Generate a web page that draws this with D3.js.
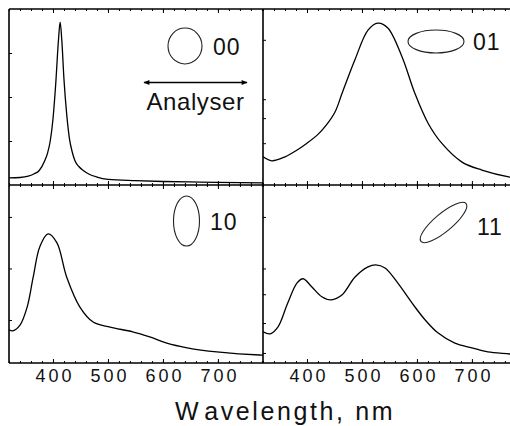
<!DOCTYPE html>
<html><head><meta charset="utf-8">
<script src="https://cdn.jsdelivr.net/npm/d3@7"></script>
<style>
html,body{margin:0;padding:0;background:#fff;}
svg{display:block;font-family:"Liberation Sans",Arial,sans-serif;}
</style></head>
<body>
<svg id="chart" width="510" height="426"></svg>
<script>
// ---- data ----
const wavelengthDomain = [320, 782];
const xTickValues = [400, 500, 600, 700];
const xTickLabels = ["400", "500", "600", "700"];

const s00_wl = [320,340,355,365,375,385,390,395,400,405,410,413,416,420,425,430,435,440,447,455,465,480,500,550,600,650,700,782];
const s00_I  = [0.16,0.17,0.2,0.25,0.33,0.55,0.72,1.0,1.5,2.3,3.3,3.7,3.3,2.4,1.6,1.05,0.75,0.55,0.42,0.33,0.25,0.18,0.13,0.1,0.08,0.07,0.06,0.05];

const s01_wl = [320,336,360,380,400,420,435,451,464,487,511,529,547,573,596,620,645,682,718,769,782];
const s01_I  = [0.64,0.55,0.64,0.78,0.95,1.15,1.36,1.66,2.09,2.84,3.52,3.68,3.57,2.91,2.09,1.41,0.95,0.52,0.34,0.18,0.16];

const s10_wl = [320,327,340,353,364,376,391,407,425,449,473,504,545,576,607,644,698,776,782];
const s10_I  = [0.81,0.79,0.90,1.25,1.83,2.42,2.67,2.50,1.83,1.25,0.96,0.86,0.77,0.67,0.55,0.46,0.38,0.32,0.32];

const s11_wl = [320,333,347,365,382,393,409,427,444,464,487,511,525,542,565,591,615,638,669,700,729,769,782];
const s11_I  = [0.77,0.73,0.86,1.33,1.72,1.80,1.64,1.45,1.39,1.49,1.83,2.03,2.07,2.01,1.72,1.33,1.00,0.75,0.55,0.46,0.38,0.34,0.32];

const panelLabels = ["00", "01", "10", "11"];
const yTicks00 = [1, 2, 3];
const yTicks01 = [0.95, 1.52, 1.95, 3.3];
const yTicks10 = [1, 2, 3];
const yTicks11 = [0.36, 0.94, 1.5, 2.0, 3.0];
const topDomain = [0, 4.0];
const bottomDomain = [0.165, 3.62];

// ---- layout ----
const svg = d3.select("#chart");
const X0 = 9, XM = 263, X1 = 517, Y0 = 9, YM = 185, Y1 = 363;

const panels = [
  {wl:s00_wl, I:s00_I, x:[X0,XM], y:[YM,Y0], dom:topDomain, yt:yTicks00, bottomLabels:false, curve:d3.curveMonotoneX},
  {wl:s01_wl, I:s01_I, x:[XM,X1], y:[YM,Y0], dom:topDomain, yt:yTicks01, bottomLabels:false, curve:d3.curveCatmullRom.alpha(0.5)},
  {wl:s10_wl, I:s10_I, x:[X0,XM], y:[Y1,YM], dom:bottomDomain, yt:yTicks10, bottomLabels:true, curve:d3.curveCatmullRom.alpha(0.5)},
  {wl:s11_wl, I:s11_I, x:[XM,X1], y:[Y1,YM], dom:bottomDomain, yt:yTicks11, bottomLabels:true, curve:d3.curveCatmullRom.alpha(0.5)}
];

const minorTicks = d3.range(320, 783, 20);

panels.forEach((p, i) => {
  const x = d3.scaleLinear().domain(wavelengthDomain).range(p.x);
  const y = d3.scaleLinear().domain(p.dom).range(p.y);
  const g = svg.append("g");
  const clipId = "clip" + i;
  svg.append("clipPath").attr("id", clipId).append("rect")
    .attr("x", p.x[0]).attr("y", p.y[1]).attr("width", p.x[1]-p.x[0]).attr("height", p.y[0]-p.y[1]);

  const minorB = d3.axisBottom(x).tickValues(minorTicks).tickSize(-2).tickFormat("");
  const minorT = d3.axisTop(x).tickValues(minorTicks).tickSize(-2).tickFormat("");
  const majB = d3.axisBottom(x).tickValues(xTickValues).tickSize(-4).tickPadding(6)
      .tickFormat((d, k) => p.bottomLabels ? xTickLabels[k] : "");
  const majT = d3.axisTop(x).tickValues(xTickValues).tickSize(-4).tickFormat("");
  const yAx = d3.axisLeft(y).tickValues(p.yt).tickSize(-3).tickFormat("");

  [[minorB, p.y[0]], [majB, p.y[0]], [minorT, p.y[1]], [majT, p.y[1]]].forEach(([ax, ty]) => {
    const a = g.append("g").attr("transform", `translate(0,${ty})`).call(ax);
    a.select(".domain").remove();
    a.selectAll(".tick line").attr("stroke", "#000").attr("stroke-width", 1);
    a.selectAll(".tick text").attr("font-size", 18).attr("fill", "#111")
      .attr("letter-spacing", "3px").attr("dx", "1.5px")
      .attr("font-family", "'Liberation Sans',Arial,sans-serif");
  });
  const ya = g.append("g").attr("transform", `translate(${p.x[0]},0)`).call(yAx);
  ya.select(".domain").remove();
  ya.selectAll(".tick line").attr("stroke", "#000").attr("stroke-width", 1);

  const line = d3.line().x((d, k) => x(p.wl[k])).y((d, k) => y(p.I[k])).curve(p.curve);
  g.append("path").datum(p.I).attr("d", line).attr("fill", "none")
    .attr("stroke", "#000").attr("stroke-width", 1.3).attr("clip-path", `url(#${clipId})`);
});

// frame lines
const frame = svg.append("g").attr("stroke", "#000").attr("stroke-width", 1.6).attr("fill", "none");
frame.append("line").attr("x1", X0).attr("x2", X1).attr("y1", Y0).attr("y2", Y0);
frame.append("line").attr("x1", X0).attr("x2", X1).attr("y1", YM).attr("y2", YM);
frame.append("line").attr("x1", X0).attr("x2", X1).attr("y1", Y1).attr("y2", Y1);
frame.append("line").attr("x1", X0).attr("x2", X0).attr("y1", Y0).attr("y2", Y1);
frame.append("line").attr("x1", XM).attr("x2", XM).attr("y1", Y0).attr("y2", Y1);

// polarization ellipses
const ell = svg.append("g").attr("fill", "none").attr("stroke", "#222").attr("stroke-width", 1.1);
ell.append("ellipse").attr("cx", 185).attr("cy", 46).attr("rx", 17).attr("ry", 18);
ell.append("ellipse").attr("cx", 436).attr("cy", 41.5).attr("rx", 28).attr("ry", 11.5);
ell.append("ellipse").attr("cx", 186.5).attr("cy", 221).attr("rx", 13).attr("ry", 25);
ell.append("ellipse").attr("cx", 0).attr("cy", 0).attr("rx", 29.5).attr("ry", 9)
  .attr("transform", "translate(443.5,222.5) rotate(-40)");

// panel labels
const labelPos = [[213, 55], [473, 50], [210, 230], [477, 235]];
panelLabels.forEach((t, k) => {
  svg.append("text").attr("x", labelPos[k][0]).attr("y", labelPos[k][1])
    .attr("font-size", 23).attr("fill", "#111").attr("letter-spacing", "1px").text(t);
});

// analyser arrow
const defs = svg.append("defs");
defs.append("marker").attr("id", "ah").attr("viewBox", "0 0 10 10").attr("refX", 9).attr("refY", 5)
  .attr("markerWidth", 9).attr("markerHeight", 6).attr("orient", "auto-start-reverse")
  .attr("markerUnits", "userSpaceOnUse")
  .append("path").attr("d", "M0,1 L10,5 L0,9 Z").attr("fill", "#000");
svg.append("line").attr("x1", 144).attr("x2", 247).attr("y1", 82.5).attr("y2", 82.5)
  .attr("stroke", "#000").attr("stroke-width", 1.6)
  .attr("marker-start", "url(#ah)").attr("marker-end", "url(#ah)");
svg.append("text").attr("x", 195.5).attr("y", 110).attr("text-anchor", "middle")
  .attr("font-size", 24).attr("fill", "#111").attr("letter-spacing", "0.6px").text("Analyser");

// x axis title
const title = svg.append("text").attr("x", 285).attr("y", 420).attr("text-anchor", "middle")
  .attr("font-size", 25).attr("fill", "#111").attr("letter-spacing", "2.6px");
title.append("tspan").text("W");
title.append("tspan").attr("dx", 4).text("avelength, nm");
</script>
</body></html>
